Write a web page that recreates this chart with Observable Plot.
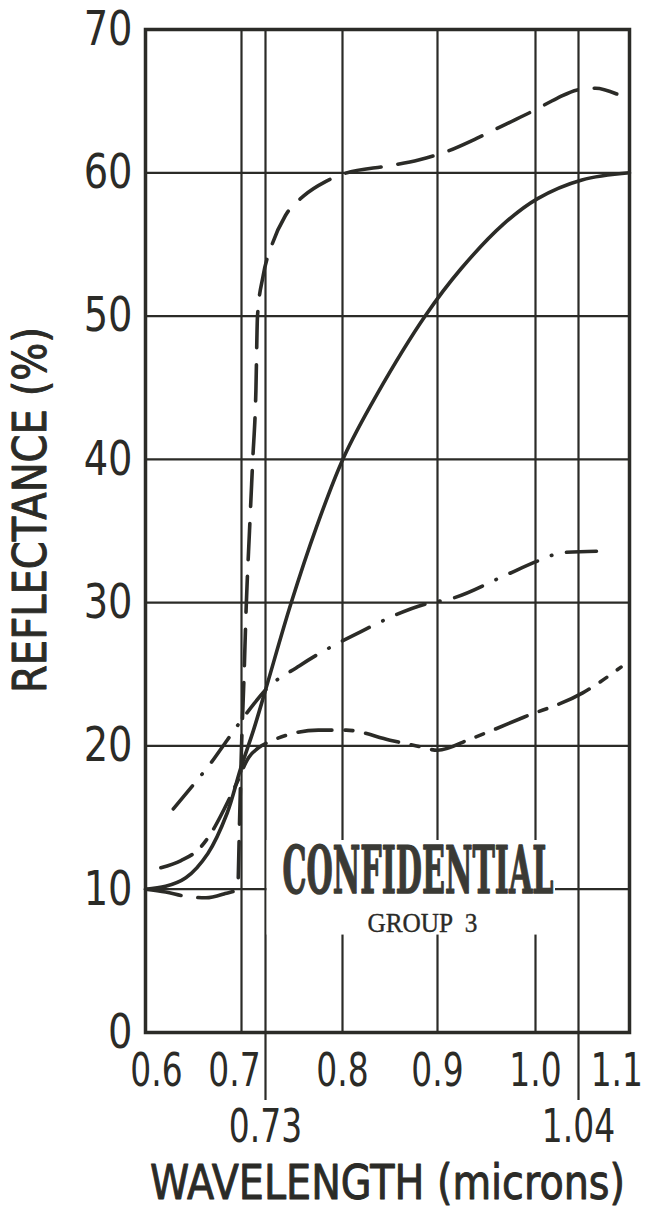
<!DOCTYPE html>
<html><head><meta charset="utf-8">
<script src="https://cdn.jsdelivr.net/npm/d3@7"></script>
<script src="https://cdn.jsdelivr.net/npm/@observablehq/plot@0.6"></script>
<style>
html,body{margin:0;padding:0;background:#fff;}
#chart{width:647px;height:1214px;}
</style></head><body><div id="chart"></div>
<script>
// ---- data ----
const wlA = [0.600, 0.621, 0.642, 0.663, 0.683, 0.696, 0.698, 0.700, 0.703, 0.706, 0.710, 0.714, 0.718, 0.720, 0.727, 0.736, 0.748, 0.765, 0.785, 0.800, 0.850, 0.880, 0.910, 0.940, 0.970, 1.000, 1.020, 1.040, 1.060, 1.085];
const reflA = [10.0, 9.8, 9.5, 9.4, 9.7, 10.0, 14.8, 19.9, 24.6, 29.9, 35.0, 39.9, 44.8, 50.0, 52.8, 55.0, 57.0, 58.4, 59.4, 59.9, 60.5, 60.9, 61.5, 62.4, 63.4, 64.4, 65.2, 65.8, 65.9, 65.5];

const wlB = [0.600, 0.621, 0.642, 0.665, 0.685, 0.699, 0.715, 0.730, 0.753, 0.776, 0.801, 0.836, 0.887, 0.924, 0.967, 1.002, 1.044, 1.100];
const reflB = [10.0, 10.2, 10.8, 12.5, 15.3, 18.4, 21.1, 23.9, 29.9, 35.2, 40.1, 44.5, 50.0, 53.3, 56.4, 58.2, 59.5, 60.0];

const wlC = [0.629, 0.650, 0.668, 0.685, 0.700, 0.715, 0.730, 0.761, 0.820, 0.887, 0.915, 0.969, 1.002, 1.026, 1.072];
const reflC = [15.6, 17.3, 18.8, 20.4, 21.8, 22.9, 23.9, 25.6, 28.0, 29.9, 30.3, 31.9, 32.9, 33.5, 33.6];

const wlD = [0.616, 0.637, 0.657, 0.670, 0.682, 0.695, 0.709, 0.722, 0.737, 0.778, 0.804, 0.850, 0.878, 0.900, 0.934, 0.988, 1.045, 1.090];
const reflD = [11.5, 12.0, 12.9, 14.1, 15.6, 17.4, 19.2, 19.9, 20.4, 21.1, 21.1, 20.4, 20.0, 19.7, 20.5, 22.0, 23.7, 25.5];

const yTicks = [0, 10, 20, 30, 40, 50, 60, 70];
const yGrid = [10, 20, 30, 40, 50, 60];
const xGrid = [0.7, 0.73, 0.8, 0.9, 1.0, 1.04];
const xTicksMain = [0.6, 0.7, 0.8, 0.9, 1.0, 1.1];
const xLabelsMain = ["0.6", "0.7", "0.8", "0.9", "1.0", "1.1"];
const xTicksExtra = [0.73, 1.04];
const xLabelsExtra = ["0.73", "1.04"];
const yTitle = "REFLECTANCE (%)";
const xTitle = "WAVELENGTH (microns)";
const stampWords = ["CONFIDENTIAL", "GROUP  3"];

// ---- build tables ----
const toRows = (wl, r) => wl.map((w, i) => ({w, r: r[i]}));
const rowsA = toRows(wlA, reflA), rowsB = toRows(wlB, reflB), rowsC = toRows(wlC, reflC), rowsD = toRows(wlD, reflD);
const mainLabel = new Map(xTicksMain.map((v, i) => [v, xLabelsMain[i]]));
const extraLabel = new Map(xTicksExtra.map((v, i) => [v, xLabelsExtra[i]]));

const ink = "#2b2b27";
const sans = "'DejaVu Sans', sans-serif";
const lw = 3.6;

const chart = Plot.plot({
  width: 647, height: 1214,
  marginLeft: 145, marginRight: 18, marginTop: 29, marginBottom: 182,
  x: {type: "linear", domain: [0.6, 0.7, 0.73, 0.8, 0.9, 1.0, 1.04, 1.1], range: [145, 241, 265, 342, 437, 535, 578, 629]},
  y: {domain: [0, 70]},
  style: {background: "white", color: ink, fontFamily: sans, overflow: "visible"},
  marks: [
    Plot.ruleY(yGrid, {stroke: ink, strokeWidth: 2.2}),
    Plot.ruleX(xGrid, {stroke: ink, strokeWidth: 2.2}),
    // stamp background
    Plot.rect([stampWords[0]], {x1: 0.7315, x2: 1.0186, y1: 6.8, y2: 13.4, fill: "white"}),
    Plot.text([stampWords[0]], {x: 0.8795, y: 9.77, text: d => d, lineAnchor: "bottom", fontFamily: "'DejaVu Serif', serif", fontWeight: "bold", fontSize: 66, fill: "#3a3a35", stroke: "#3a3a35", strokeWidth: 1.5, className: "stamp1"}),
    Plot.text([stampWords[1]], {x: 0.8842, y: 7.0, text: d => d, lineAnchor: "bottom", fontFamily: "'Liberation Serif', serif", fontSize: 28, fill: ink, stroke: ink, strokeWidth: 0.4, className: "stamp2"}),
    // curves
    Plot.line(rowsA, {x: "w", y: "r", curve: "monotone-x", stroke: ink, strokeWidth: lw, strokeLinecap: "round", strokeDasharray: "36,17"}),
    Plot.line(rowsB, {x: "w", y: "r", curve: "catmull-rom", stroke: ink, strokeWidth: lw, strokeLinecap: "round"}),
    Plot.line(rowsC, {x: "w", y: "r", curve: "monotone-x", stroke: ink, strokeWidth: lw, strokeLinecap: "round", strokeDasharray: "30,15,0.5,15"}),
    Plot.line(rowsD, {x: "w", y: "r", curve: "monotone-x", stroke: ink, strokeWidth: lw, strokeLinecap: "round", strokeDasharray: "34,13,8,13"}),
    Plot.frame({stroke: ink, strokeWidth: 3.5}),
    // axes
    Plot.axisY(yTicks, {tickSize: 0, tickPadding: 13, fontSize: 48, label: null, tickFormat: d => String(d), fill: ink}),
    Plot.axisX(xTicksMain, {tickSize: 0, tickPadding: 20, fontSize: 47, label: null, tickFormat: d => mainLabel.get(d), fill: ink}),
    Plot.axisX(xTicksExtra, {tickSize: 68, tickPadding: 8, strokeWidth: 2.2, stroke: ink, fontSize: 47, label: null, tickFormat: d => extraLabel.get(d), fill: ink}),
    Plot.text([yTitle], {text: d => d, frameAnchor: "left", textAnchor: "middle", lineAnchor: "middle", rotate: -90, dx: -114, dy: -21, fontSize: 46, fill: ink, stroke: ink, strokeWidth: 1, className: "ytitle"}),
    Plot.text([xTitle], {text: d => d, frameAnchor: "bottom", textAnchor: "middle", lineAnchor: "bottom", dy: 166, fontSize: 48, fill: ink, stroke: ink, strokeWidth: 1, className: "xtitle"})
  ]
});
document.getElementById("chart").appendChild(chart);

function fit(sel, lenFn) {
  chart.querySelectorAll(sel).forEach(t => {
    const natural = t.getComputedTextLength();
    t.setAttribute("textLength", lenFn(natural));
    t.setAttribute("lengthAdjust", "spacingAndGlyphs");
  });
}
fit(".stamp1 text", () => 271);
fit(".stamp2 text", () => 110);
fit(".ytitle text", () => 366);
fit(".xtitle text", () => 475);
fit('g[aria-label="y-axis tick label"] text', n => n * 0.8);
fit('g[aria-label="x-axis tick label"] text', n => n * 0.7);
// hand-lettered label offsets as in the original drawing
const nudge = {"0.6": 11, "0.7": -7};
chart.querySelectorAll('g[aria-label="x-axis tick label"] text').forEach(t => {
  const k = t.textContent;
  if (nudge[k]) t.setAttribute("dx", nudge[k]);
  const r = t.getBoundingClientRect();
  if (r.right > 643) t.setAttribute("dx", (643 - r.right).toFixed(1));
});
</script>
</body></html>
